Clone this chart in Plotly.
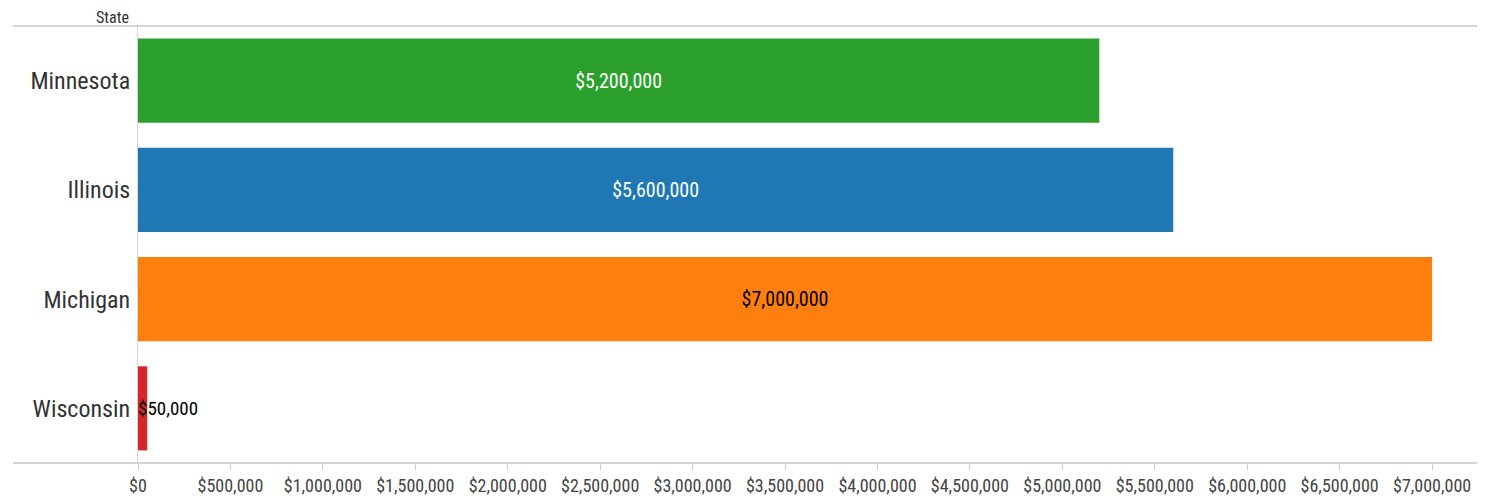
import plotly.graph_objects as go

states = ["Minnesota", "Illinois", "Michigan", "Wisconsin"]
values = [5200000, 5600000, 7000000, 50000]
colors = ["#2ca02c", "#1f77b4", "#ff7f0e", "#d62728"]
text_colors = ["white", "white", "black", "black"]
tick_vals = list(range(0, 7000001, 500000))
tick_text = ["${:,}".format(v) for v in tick_vals]

FONT = "Liberation Sans Narrow, Arial Narrow, Roboto Condensed, Liberation Sans, sans-serif"

labels = ["${:,}".format(v) for v in values]
inside_text = [t if v > 1000000 else "" for t, v in zip(labels, values)]

fig = go.Figure()
fig.add_trace(go.Bar(
    y=states, x=values, orientation="h",
    marker=dict(color=colors, line=dict(width=0)),
    width=0.77,
    text=inside_text, textposition="inside", insidetextanchor="middle",
    textfont=dict(family=FONT, size=20, color=text_colors),
    textangle=0,
    hoverinfo="skip",
))

for s, v, t in zip(states, values, labels):
    if v <= 1000000:
        fig.add_annotation(x=0, y=s, text=t, xanchor="left", yanchor="middle",
                           showarrow=False, xshift=-2,
                           font=dict(family=FONT, size=19, color="black"))

# page body has an 8px margin; compensate so the plot area lands where the reference has it
W, H = 1477, 491
L, R, T, B = 130, 3, 18, 36
pw = W - L - R
x_left_paper = (13 - 8 - L) / pw

fig.add_shape(type="line", xref="paper", yref="paper", x0=x_left_paper, x1=1, y0=1, y1=1,
              line=dict(color="#d4d4d4", width=2))
fig.add_shape(type="line", xref="paper", yref="paper", x0=x_left_paper, x1=1, y0=0, y1=0,
              line=dict(color="#d4d4d4", width=2))
fig.add_annotation(xref="paper", yref="paper", x=(130 - 8 - L) / pw, y=1, yanchor="middle",
                   xanchor="right", text="State", showarrow=False, yshift=9, borderpad=0,
                   font=dict(family=FONT, size=16, color="#333333"))

fig.update_layout(
    width=W, height=H,
    margin=dict(l=L, r=R, t=T, b=B),
    plot_bgcolor="white", paper_bgcolor="white",
    showlegend=False,
    bargap=0.23,
    xaxis=dict(range=[0, 7270000], tickvals=tick_vals, ticktext=tick_text,
               showgrid=False, zeroline=False, showline=False,
               ticks="outside", ticklen=6, tickcolor="#cccccc", tickwidth=1,
               tickfont=dict(family=FONT, size=18, color="#444444")),
    yaxis=dict(categoryorder="array", categoryarray=states, autorange="reversed",
               showgrid=False, zeroline=False, showline=True, linecolor="#d4d4d4", linewidth=1,
               ticks="", ticklabelstandoff=2,
               tickfont=dict(family=FONT, size=24, color="#333333")),
    font=dict(family=FONT),
)

fig.write_html("out.html")
